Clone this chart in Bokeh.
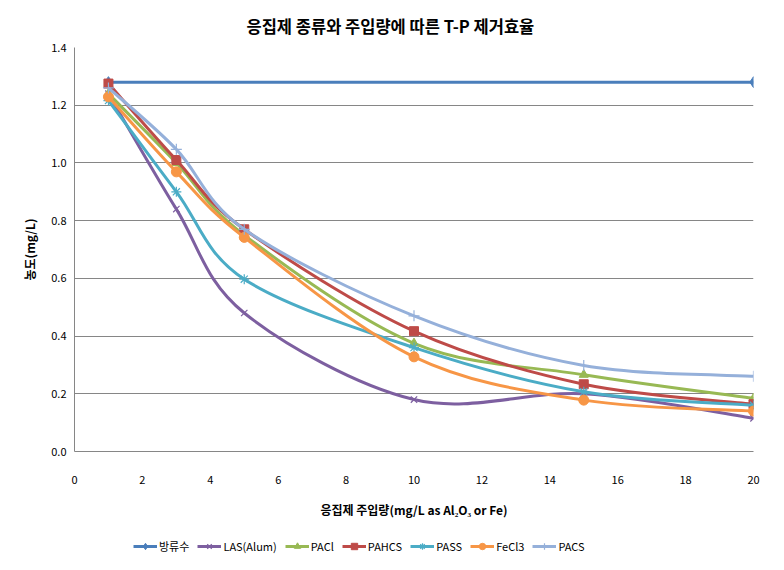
import numpy as np
from bokeh.plotting import figure
from bokeh.layouts import column
from bokeh.models import Range1d, FixedTicker, Legend, LegendItem, ColumnDataSource, Title, NumeralTickFormatter
from bokeh.core.properties import value
from bokeh.embed import file_html
from bokeh.resources import INLINE

# ---- data ----
doses = [1, 3, 5, 10, 15, 20]
effluent_x = [1, 20]
effluent = [1.28, 1.28]
las_alum = [1.24, 0.84, 0.48, 0.18, 0.20, 0.115]
pacl = [1.24, 1.00, 0.75, 0.375, 0.266, 0.184]
pahcs = [1.275, 1.01, 0.77, 0.417, 0.233, 0.164]
pass_ = [1.216, 0.90, 0.597, 0.36, 0.207, 0.16]
fecl3 = [1.229, 0.969, 0.742, 0.328, 0.178, 0.14]
pacs = [1.26, 1.047, 0.77, 0.47, 0.298, 0.261]

series_names = ["방류수", "LAS(Alum)", "PACl", "PAHCS", "PASS", "FeCl3", "PACS"]
x_ticks = [0, 2, 4, 6, 8, 10, 12, 14, 16, 18, 20]
y_ticks = [0.0, 0.2, 0.4, 0.6, 0.8, 1.0, 1.2, 1.4]

FONT = "Noto Sans CJK KR"
GRID = "#868686"

p = figure(width=768, height=523, output_backend="svg", toolbar_location=None,
           x_range=Range1d(0, 20), y_range=Range1d(0, 1.4),
           min_border_left=74, min_border_right=15, min_border_top=47, min_border_bottom=72)
p.outline_line_color = None
p.background_fill_color = "white"
p.border_fill_color = "white"

p.xgrid.grid_line_color = None
p.ygrid.grid_line_color = GRID
p.ygrid.grid_line_width = 1
p.yaxis.ticker = FixedTicker(ticks=y_ticks)
p.xaxis.ticker = FixedTicker(ticks=x_ticks)
p.yaxis.formatter = NumeralTickFormatter(format="0.0")

for ax in (p.xaxis, p.yaxis):
    ax.axis_line_color = GRID
    ax.axis_line_width = 1
    ax.major_tick_out = 0
    ax.major_tick_in = 0
    ax.minor_tick_line_color = None
    ax.major_label_text_font = FONT
    ax.major_label_text_font_size = "11px"
    ax.major_label_text_color = "#000000"
    ax.axis_label_text_font = FONT
    ax.axis_label_text_font_size = "12px"
    ax.axis_label_text_font_style = "bold"
    ax.axis_label_text_color = "#000000"

p.xaxis.major_label_standoff = 24
p.yaxis.major_label_standoff = 8
p.xaxis.axis_label = "응집제 주입량(mg/L as Al₂O₃ or Fe)"
p.yaxis.axis_label = "농도(mg/L)"
p.xaxis.axis_label_standoff = 14
p.yaxis.axis_label_standoff = 10

title = Title(text="응집제 종류와 주입량에 따른 T-P 제거효율", align="left", offset=172,
              text_font=FONT, text_font_size="16.5px", text_font_style="bold",
              text_color="#000000", standoff=20)
p.add_layout(title, "above")


def smooth(xs, ys):
    xs = np.asarray(xs, float)
    ys = np.asarray(ys, float)
    n = len(xs)
    px = np.concatenate([[xs[0]], xs, [xs[-1]]])
    py = np.concatenate([[ys[0]], ys, [ys[-1]]])
    d = dict(x0=[], y0=[], x1=[], y1=[], cx0=[], cy0=[], cx1=[], cy1=[])
    for i in range(n - 1):
        a, b = i + 1, i + 2
        d["x0"].append(px[a]); d["y0"].append(py[a])
        d["x1"].append(px[b]); d["y1"].append(py[b])
        d["cx0"].append(px[a] + (px[b] - px[a - 1]) / 6.0)
        d["cy0"].append(py[a] + (py[b] - py[a - 1]) / 6.0)
        d["cx1"].append(px[b] - (px[b + 1] - px[a]) / 6.0)
        d["cy1"].append(py[b] - (py[b + 1] - py[a]) / 6.0)
    return ColumnDataSource(d)


specs = [
    ("방류수", effluent_x, effluent, "#4A7EBB", "diamond", 11),
    ("LAS(Alum)", doses, las_alum, "#7D5FA0", "x", 9),
    ("PACl", doses, pacl, "#98B954", "triangle", 9),
    ("PAHCS", doses, pahcs, "#BE4B48", "square", 9),
    ("PASS", doses, pass_, "#4BACC6", "asterisk", 10),
    ("FeCl3", doses, fecl3, "#F79646", "circle", 10),
    ("PACS", doses, pacs, "#95B0DA", "cross", 11),
]

# legend strip (separate figure below the chart; its view range excludes the data,
# so only the legend is visible)
lg = figure(width=768, height=31, output_backend="svg", toolbar_location=None,
            x_range=Range1d(-3, -2), y_range=Range1d(0, 1.4),
            x_axis_location=None, y_axis_location=None,
            min_border_left=0, min_border_right=0, min_border_top=0, min_border_bottom=0)
lg.outline_line_color = None
lg.xgrid.grid_line_color = None
lg.ygrid.grid_line_color = None
lg.border_fill_color = "white"
lg.background_fill_color = "white"

items = []
for name, xs, ys, color, marker, size in specs:
    src = smooth(xs, ys)
    p.bezier(x0="x0", y0="y0", x1="x1", y1="y1", cx0="cx0", cy0="cy0",
             cx1="cx1", cy1="cy1", source=src, line_color=color, line_width=3)
    kw = dict(marker=marker, size=size, line_color=color, fill_color=color)
    if marker in ("x", "asterisk", "cross"):
        kw["line_width"] = 1.2
    p.scatter(xs, ys, **kw)
    lr = lg.line(xs, ys, line_color=color, line_width=3)
    sr = lg.scatter(xs, ys, **kw)
    items.append(LegendItem(label=name, renderers=[lr, sr]))

legend = Legend(items=items, orientation="horizontal", location=(59, 0),
                label_text_font=FONT, label_text_font_size="11px", label_text_color="#000000",
                glyph_width=24, glyph_height=16, label_standoff=2, spacing=8,
                padding=0, margin=0, border_line_color=None, background_fill_alpha=0)
lg.add_layout(legend, "center")

layout = column(p, lg, spacing=0)
open("out.html", "w").write(file_html(layout, INLINE))
